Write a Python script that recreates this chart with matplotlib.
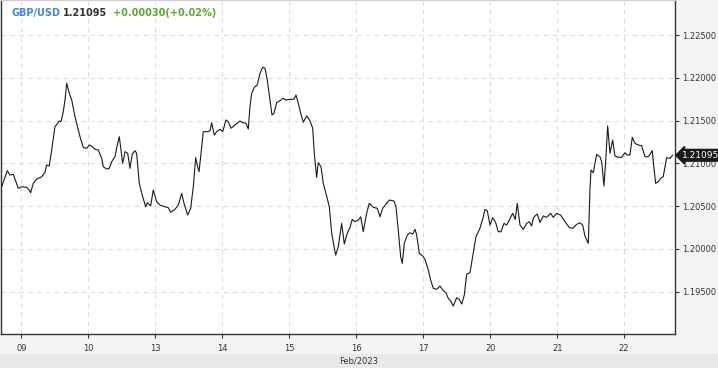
import matplotlib
matplotlib.use("Agg")
import matplotlib.pyplot as plt
from matplotlib.patches import Rectangle

# ---- data (x in trading days from Feb 09 00:00, y = GBP/USD price) ----
day_pos = [-0.296, -0.212, -0.172, -0.122, -0.048, 0.003, 0.078, 0.116, 0.137, 0.176,
           0.227, 0.302, 0.351, 0.376, 0.415, 0.451, 0.500, 0.565, 0.590, 0.624,
           0.650, 0.675, 0.714, 0.750, 0.799, 0.874, 0.923, 0.974, 1.013, 1.048,
           1.098, 1.147, 1.198, 1.222, 1.272, 1.311, 1.347, 1.396, 1.431, 1.461,
           1.481, 1.511, 1.546, 1.586, 1.620, 1.655, 1.695, 1.720, 1.759, 1.810,
           1.855, 1.879, 1.929, 1.968, 2.019, 2.068, 2.143, 2.192, 2.228, 2.292,
           2.342, 2.392, 2.427, 2.482, 2.527, 2.566, 2.601, 2.631, 2.651, 2.676,
           2.715, 2.766, 2.815, 2.840, 2.879, 2.915, 2.964, 3.005, 3.054, 3.088,
           3.129, 3.188, 3.263, 3.303, 3.353, 3.387, 3.412, 3.438, 3.477, 3.521,
           3.562, 3.602, 3.636, 3.671, 3.711, 3.741, 3.771, 3.811, 3.860, 3.910,
           3.950, 4.010, 4.070, 4.099, 4.134, 4.170, 4.208, 4.259, 4.308, 4.349,
           4.373, 4.408, 4.432, 4.473, 4.507, 4.547, 4.597, 4.633, 4.692, 4.731,
           4.782, 4.821, 4.865, 4.906, 4.940, 4.981, 5.030, 5.066, 5.104, 5.155,
           5.194, 5.254, 5.314, 5.354, 5.394, 5.454, 5.493, 5.563, 5.593, 5.627,
           5.663, 5.687, 5.717, 5.762, 5.802, 5.842, 5.877, 5.902, 5.941, 5.992,
           6.026, 6.075, 6.111, 6.150, 6.201, 6.250, 6.299, 6.339, 6.374, 6.410,
           6.448, 6.499, 6.538, 6.574, 6.613, 6.649, 6.698, 6.738, 6.787, 6.847,
           6.897, 6.922, 6.956, 6.997, 7.037, 7.082, 7.121, 7.161, 7.206, 7.246,
           7.285, 7.336, 7.374, 7.404, 7.445, 7.494, 7.545, 7.584, 7.619, 7.643,
           7.669, 7.703, 7.743, 7.793, 7.843, 7.903, 7.942, 7.993, 8.052, 8.117,
           8.181, 8.232, 8.291, 8.341, 8.381, 8.415, 8.465, 8.490, 8.505, 8.539,
           8.590, 8.639, 8.665, 8.699, 8.729, 8.754, 8.789, 8.829, 8.863, 8.913,
           8.963, 9.013, 9.047, 9.087, 9.122, 9.162, 9.211, 9.262, 9.311, 9.361,
           9.396, 9.420, 9.446, 9.471, 9.510, 9.546, 9.584, 9.635, 9.685, 9.725]

prices = [1.20727, 1.20915, 1.20864, 1.20872, 1.20709, 1.20727, 1.20720, 1.20689, 1.20657, 1.20767,
          1.20817, 1.20844, 1.20896, 1.20981, 1.20970, 1.21157, 1.21429, 1.21496, 1.21488, 1.21605,
          1.21742, 1.21937, 1.21820, 1.21742, 1.21546, 1.21312, 1.21184, 1.21177, 1.21215, 1.21204,
          1.21165, 1.21157, 1.21060, 1.20961, 1.20934, 1.20943, 1.21020, 1.21078, 1.21215, 1.21312,
          1.21188, 1.21000, 1.21137, 1.21118, 1.20943, 1.21110, 1.21149, 1.21118, 1.20767, 1.20610,
          1.20493, 1.20540, 1.20502, 1.20689, 1.20552, 1.20513, 1.20493, 1.20482, 1.20428, 1.20463,
          1.20513, 1.20650, 1.20533, 1.20396, 1.20475, 1.20727, 1.21067, 1.20961, 1.20903, 1.21078,
          1.21371, 1.21371, 1.21379, 1.21476, 1.21332, 1.21371, 1.21399, 1.21371, 1.21508, 1.21488,
          1.21411, 1.21449, 1.21496, 1.21476, 1.21469, 1.21402, 1.21663, 1.21820, 1.21890, 1.21917,
          1.22054, 1.22124, 1.22113, 1.21976, 1.21742, 1.21566, 1.21586, 1.21710, 1.21734, 1.21762,
          1.21742, 1.21750, 1.21750, 1.21800, 1.21703, 1.21586, 1.21481, 1.21555, 1.21500, 1.21411,
          1.21118, 1.20837, 1.21008, 1.20961, 1.20767, 1.20650, 1.20493, 1.20182, 1.19928, 1.20025,
          1.20299, 1.20057, 1.20182, 1.20252, 1.20346, 1.20318, 1.20338, 1.20376, 1.20201, 1.20416,
          1.20533, 1.20486, 1.20475, 1.20376, 1.20475, 1.20533, 1.20572, 1.20560, 1.20493, 1.20221,
          1.19908, 1.19831, 1.20065, 1.20162, 1.20189, 1.20174, 1.20229, 1.20162, 1.19948, 1.19917,
          1.19878, 1.19753, 1.19636, 1.19539, 1.19527, 1.19566, 1.19511, 1.19487, 1.19422, 1.19390,
          1.19332, 1.19429, 1.19410, 1.19355, 1.19460, 1.19706, 1.19721, 1.19908, 1.20142, 1.20241,
          1.20376, 1.20463, 1.20447, 1.20279, 1.20365, 1.20306, 1.20201, 1.20201, 1.20299, 1.20279,
          1.20338, 1.20416, 1.20346, 1.20533, 1.20279, 1.20229, 1.20299, 1.20318, 1.20268, 1.20358,
          1.20385, 1.20408, 1.20309, 1.20385, 1.20369, 1.20416, 1.20369, 1.20416, 1.20396, 1.20318,
          1.20252, 1.20241, 1.20287, 1.20306, 1.20279, 1.20151, 1.20065, 1.20697, 1.20923, 1.20891,
          1.21106, 1.21078, 1.21020, 1.20736, 1.21078, 1.21438, 1.21118, 1.21274, 1.21087, 1.21071,
          1.21071, 1.21125, 1.21098, 1.21098, 1.21305, 1.21235, 1.21215, 1.21207, 1.21078, 1.21078,
          1.21118, 1.21149, 1.20943, 1.20767, 1.20786, 1.20826, 1.20844, 1.21067, 1.21060, 1.21095]

day_ticks = [0, 1, 2, 3, 4, 5, 6, 7, 8, 9]
day_labels = ["09", "10", "13", "14", "15", "16", "17", "20", "21", "22"]
price_ticks = [1.195, 1.200, 1.205, 1.210, 1.215, 1.220, 1.225]
symbol = "GBP/USD"
last_price = "1.21095"
change = "+0.00030(+0.02%)"
month_label = "Feb/2023"

# ---- figure ----
W, H = 718, 368
fig = plt.figure(figsize=(W / 100, H / 100), dpi=100)
fig.patch.set_facecolor("#f3f4f6")
fig.add_artist(Rectangle((0, 0), 1, 14 / H, transform=fig.transFigure,
                         facecolor="#e8e9eb", edgecolor="none", zorder=0))

ax = fig.add_axes([1 / W, 34 / H, 674 / W, 334 / H])
ax.set_facecolor("white")
ax.plot(day_pos, prices, color="#1a1a1a", linewidth=0.8, zorder=3)

ax.set_xlim(-0.306, 9.76)
ax.set_ylim(1.19005, 1.22911)

ax.set_xticks(day_ticks)
ax.set_xticklabels(day_labels)
ax.set_yticks(price_ticks)
ax.set_yticklabels([f"{v:.5f}" for v in price_ticks])
ax.yaxis.tick_right()

ax.tick_params(axis="both", labelsize=6, colors="#333333", length=3, width=0.8, pad=2)
ax.tick_params(axis="x", pad=4)

ax.grid(True, color="#dcdcdc", linestyle=(0, (4, 4)), linewidth=0.8)
ax.set_axisbelow(True)

for side in ["left", "bottom", "right"]:
    ax.spines[side].set_color("#333333")
    ax.spines[side].set_linewidth(1.0)
ax.spines["top"].set_color("#cccccc")
ax.spines["top"].set_linewidth(0.8)

# last price marker on the right axis
ax.annotate(last_price, xy=(1.0, prices[-1]), xycoords=("axes fraction", "data"),
            xytext=(5, 0), textcoords="offset points", ha="left", va="center",
            fontsize=6.5, color="white", annotation_clip=False, zorder=10,
            bbox=dict(boxstyle="larrow,pad=0.15", fc="#1a1a1a", ec="#1a1a1a"))

# header
fig.text(11.7 / W, 1 - 12.8 / H, symbol, fontsize=7, fontweight="bold",
         color="#4a80e0", va="center", ha="left")
fig.text(63.3 / W, 1 - 12.8 / H, last_price, fontsize=7, fontweight="bold",
         color="#333333", va="center", ha="left")
fig.text(112.7 / W, 1 - 12.8 / H, change, fontsize=7, fontweight="bold",
         color="#5aab2c", va="center", ha="left")

fig.text(0.5, 6.5 / H, month_label, fontsize=6, color="#333333",
         ha="center", va="center")

fig.savefig("out.png", dpi=100, facecolor=fig.get_facecolor())
